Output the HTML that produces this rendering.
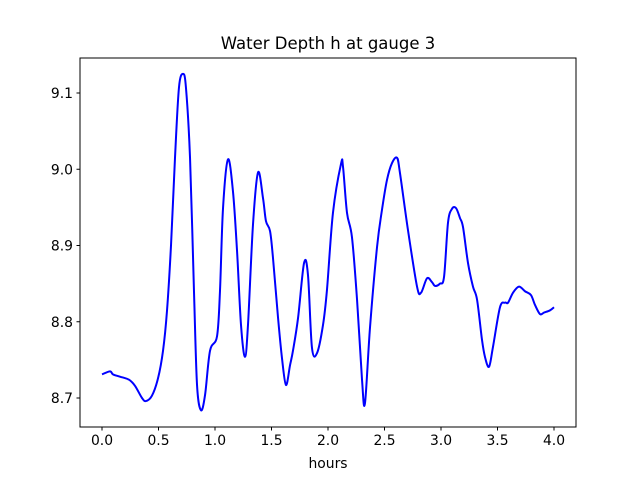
<!DOCTYPE html>
<html><head><meta charset="utf-8"><style>
body{margin:0;background:#fff}
svg{display:block;font-family:"DejaVu Sans","Liberation Sans",sans-serif}
</style></head><body>
<svg id="chart" width="640" height="480">
<rect width="640" height="480" fill="#fff"/>
<text x="328" y="49" text-anchor="middle" font-size="16.5">Water Depth h at gauge 3</text>
<text x="328" y="468" text-anchor="middle" font-size="13.9">hours</text>
<g id="ticks"></g>
<path id="line" fill="none" stroke="#0000ff" stroke-width="2" stroke-linejoin="round"/>
<rect x="80" y="58" width="496" height="369" fill="none" stroke="#000" stroke-width="1"/>
</svg>
<script>
const xTicks=[0,0.5,1,1.5,2,2.5,3,3.5,4];
const xTickLabels=["0.0","0.5","1.0","1.5","2.0","2.5","3.0","3.5","4.0"];
const yTicks=[8.7,8.8,8.9,9.0,9.1];
const yTickLabels=["8.7","8.8","8.9","9.0","9.1"];
const hours=[0,.071,.097,.159,.239,.292,.354,.389,.442,.496,.540,.575,.611,.646,.681,.717,.743,.779,.814,.841,.876,.912,.956,1.018,1.044,1.071,1.115,1.159,1.195,1.230,1.265,1.292,1.336,1.381,1.425,1.451,1.487,1.513,1.558,1.593,1.628,1.664,1.690,1.735,1.788,1.823,1.858,1.903,1.956,1.991,2.044,2.115,2.133,2.168,2.212,2.257,2.301,2.327,2.372,2.434,2.478,2.522,2.566,2.611,2.637,2.708,2.788,2.823,2.876,2.920,2.947,2.991,3.027,3.062,3.097,3.133,3.168,3.195,3.239,3.283,3.319,3.363,3.389,3.425,3.460,3.522,3.566,3.593,3.637,3.690,3.743,3.796,3.832,3.876,3.912,3.965,4.0];
const depth=[8.731,8.735,8.731,8.728,8.724,8.716,8.700,8.696,8.703,8.726,8.762,8.814,8.901,9.015,9.107,9.125,9.107,9.015,8.840,8.717,8.684,8.704,8.762,8.781,8.840,8.949,9.013,8.971,8.893,8.796,8.754,8.796,8.927,8.996,8.962,8.932,8.919,8.884,8.805,8.752,8.717,8.743,8.762,8.805,8.877,8.861,8.766,8.759,8.796,8.842,8.943,9.007,9.003,8.943,8.911,8.829,8.724,8.693,8.793,8.898,8.947,8.986,9.008,9.015,8.995,8.920,8.846,8.838,8.857,8.852,8.847,8.850,8.859,8.930,8.948,8.949,8.936,8.924,8.877,8.846,8.829,8.776,8.754,8.741,8.767,8.819,8.825,8.825,8.838,8.846,8.840,8.835,8.822,8.810,8.812,8.815,8.819];
const X=h=>102+h*113;
const Y=d=>93+(9.1-d)*762.5;
const NS="http://www.w3.org/2000/svg";
const g=document.getElementById('ticks');
function mk(tag,attrs){const e=document.createElementNS(NS,tag);for(const k in attrs)e.setAttribute(k,attrs[k]);return e;}
xTicks.forEach((t,i)=>{
  const l=mk('line',{x1:X(t),x2:X(t),y1:427,y2:430.5,stroke:'#000'});
  
  
  g.appendChild(l);
  const tx=mk('text',{x:X(t),y:445,'text-anchor':'middle','font-size':'13.9'});
  tx.textContent=xTickLabels[i];
  
  
  g.appendChild(tx);
});
yTicks.forEach((t,i)=>{
  const l=mk('line',{x1:76.5,x2:80,y1:Y(t),y2:Y(t),stroke:'#000'});
  
  
  g.appendChild(l);
  const tx=mk('text',{x:73,y:Y(t)+5,'text-anchor':'end','font-size':'13.9'});
  tx.textContent=yTickLabels[i];
  
  
  g.appendChild(tx);
});
const pts=hours.map((h,i)=>[X(h),Y(depth[i])]);
let d='M'+pts[0][0]+','+pts[0][1];
for(let i=0;i<pts.length-1;i++){
  const p0=pts[Math.max(0,i-1)],p1=pts[i],p2=pts[i+1],p3=pts[Math.min(pts.length-1,i+2)];
  const c1=[p1[0]+(p2[0]-p0[0])/6,p1[1]+(p2[1]-p0[1])/6];
  const c2=[p2[0]-(p3[0]-p1[0])/6,p2[1]-(p3[1]-p1[1])/6];
  d+=' C'+c1[0]+','+c1[1]+' '+c2[0]+','+c2[1]+' '+p2[0]+','+p2[1];
}
document.getElementById('line').setAttribute('d',d);
</script>
</body></html>
